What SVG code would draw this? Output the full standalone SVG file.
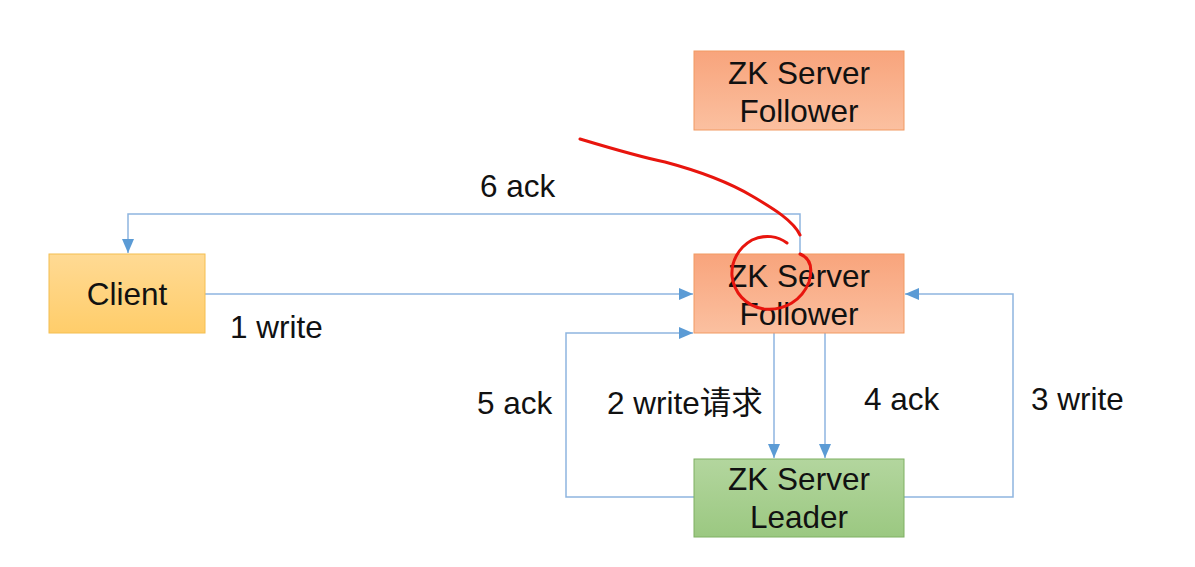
<svg xmlns="http://www.w3.org/2000/svg" width="1195" height="567" viewBox="0 0 1195 567">
<defs>
<linearGradient id="gOrange" x1="0" y1="0" x2="0" y2="1"><stop offset="0" stop-color="#F8A47C"/><stop offset="1" stop-color="#FBC0A0"/></linearGradient>
<linearGradient id="gYellow" x1="0" y1="0" x2="0" y2="1"><stop offset="0" stop-color="#FFDA94"/><stop offset="1" stop-color="#FFCD6A"/></linearGradient>
<linearGradient id="gGreen" x1="0" y1="0" x2="0" y2="1"><stop offset="0" stop-color="#B3D69E"/><stop offset="1" stop-color="#9BC881"/></linearGradient>
<marker id="arr" markerWidth="14" markerHeight="12" refX="14" refY="6" orient="auto" markerUnits="userSpaceOnUse" viewBox="0 0 14 12"><path d="M0,0 L14,6 L0,12 z" fill="#5B9BD5"/></marker>
</defs>
<style>
text{font-family:"Liberation Sans",Arial,"Noto Sans CJK SC",sans-serif;font-size:31.5px;fill:#111}
.c{text-anchor:middle}
.conn{fill:none;stroke:#8EB5E0;stroke-width:1.5}
.red{fill:none;stroke:#E8150E;stroke-width:3;stroke-linecap:round;stroke-linejoin:round}
</style>
<rect width="1195" height="567" fill="#fff"/>
<g id="connectors">
<path class="conn" d="M800,254 V214 H128 V253" marker-end="url(#arr)"/>
<path class="conn" d="M205,294 H693" marker-end="url(#arr)"/>
<path class="conn" d="M694,497 H566 V333 H693" marker-end="url(#arr)"/>
<path class="conn" d="M774,333 V458" marker-end="url(#arr)"/>
<path class="conn" d="M825,333 V458" marker-end="url(#arr)"/>
<path class="conn" d="M904,497 H1013 V294 H905" marker-end="url(#arr)"/>
</g>
<g id="labels">
<text x="480" y="197">6 ack</text>
<text x="230" y="338">1 write</text>
<text x="477" y="414">5 ack</text>
<text x="607" y="414">2 write请求</text>
<text x="864" y="410">4 ack</text>
<text x="1031" y="410">3 write</text>
</g>
<g id="follower-top">
<rect x="694" y="51" width="210" height="79" fill="url(#gOrange)" stroke="#F19A62" stroke-width="1"/>
<text class="c" x="799" y="84">ZK Server</text>
<text class="c" x="799" y="122">Follower</text>
</g>
<g id="follower">
<rect x="694" y="254" width="210" height="79" fill="url(#gOrange)" stroke="#F19A62" stroke-width="1"/>
<text class="c" x="799" y="287">ZK Server</text>
<text class="c" x="799" y="325">Follower</text>
</g>
<g id="client">
<rect x="49" y="254" width="156" height="79" fill="url(#gYellow)" stroke="#F4BE50" stroke-width="1"/>
<text class="c" x="127" y="305">Client</text>
</g>
<g id="leader">
<rect x="694" y="459" width="210" height="78" fill="url(#gGreen)" stroke="#7EB062" stroke-width="1"/>
<text class="c" x="799" y="490">ZK Server</text>
<text class="c" x="799" y="528">Leader</text>
</g>
<g id="annotation">
<path class="red" d="M580,139 C610,148 640,157 665,162 C695,170 725,180 752,196 C772,208 793,220 800,235"/>
<path class="red" d="M787,243 C778,236 765,234 752,240 C738,248 731,262 732,276 C734,292 745,306 764,309 C785,311 802,300 809,282 C813,268 810,258 800,254"/>
</g>
</svg>
